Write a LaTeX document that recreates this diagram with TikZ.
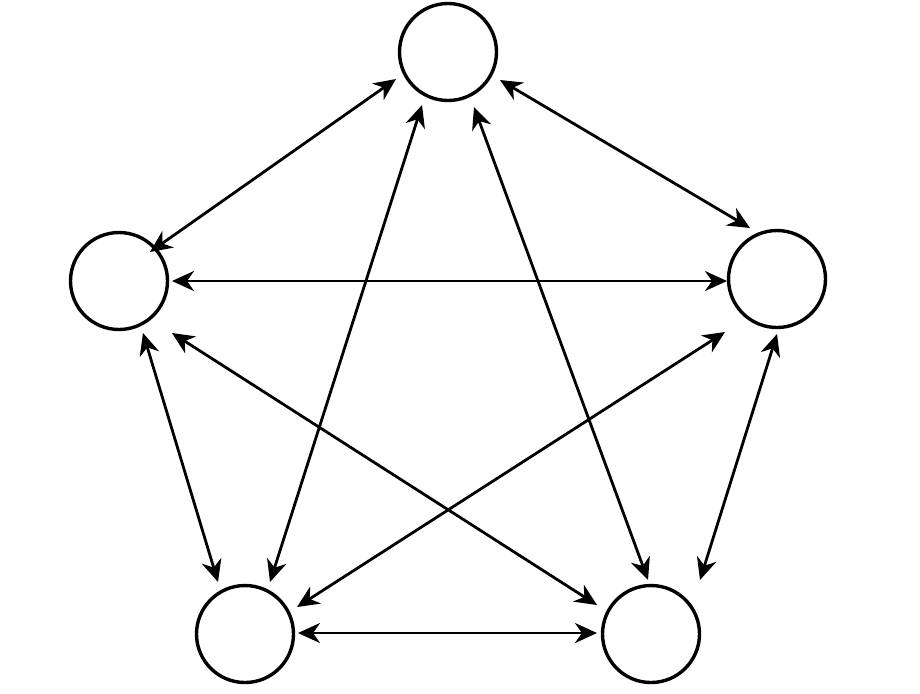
\documentclass[tikz,border=0pt]{standalone}
\usetikzlibrary{arrows.meta}
\begin{document}
\begin{tikzpicture}[x=0.5pt,y=-0.5pt,
  vertex/.style={circle,draw=black,line width=1.7pt,minimum size=48.5pt,inner sep=0pt,fill=white},
  tip/.style={Stealth[length=11pt,width=10pt,inset=3.5pt]},
  arr/.style={line width=1.4pt,{Stealth[length=11pt,width=10pt,inset=3.5pt]}-{Stealth[length=11pt,width=10pt,inset=3.5pt]}}]
\useasboundingbox (0,0) rectangle (920,693);
\fill[white] (0,0) rectangle (920,693);
\node[vertex] (T) at (448,52) {};
\node[vertex] (L) at (119,281) {};
\node[vertex] (R) at (777,279) {};
\node[vertex] (BL) at (245,634) {};
\node[vertex] (BR) at (651,634) {};
% T-L
\draw[arr] ([shift={(-52,27)}]T.center) -- ([shift={(31,-29)}]L.center);
% T-R
\draw[arr] ([shift={(52,28)}]T.center) -- ([shift={(-27,-51)}]R.center);
% T-BL
\draw[arr] ([shift={(-26,53)}]T.center) -- ([shift={(25,-52)}]BL.center);
% T-BR
\draw[arr] ([shift={(26,55)}]T.center) -- ([shift={(-3,-54)}]BR.center);
% L-R
\draw[arr] ([shift={(53,0)}]L.center) -- ([shift={(-50,2)}]R.center);
% L-BL
\draw[arr] ([shift={(24,52)}]L.center) -- ([shift={(-27,-52)}]BL.center);
% L-BR
\draw[arr] ([shift={(53,52)}]L.center) -- ([shift={(-54,-29)}]BR.center);
% BL-R
\draw[arr] ([shift={(52,-27)}]BL.center) -- ([shift={(-52,53)}]R.center);
% R-BR
\draw[arr] ([shift={(0,55)}]R.center) -- ([shift={(49,-54)}]BR.center);
% BL-BR
\draw[arr] ([shift={(53,-1)}]BL.center) -- ([shift={(-54,-1)}]BR.center);
\end{tikzpicture}
\end{document}
